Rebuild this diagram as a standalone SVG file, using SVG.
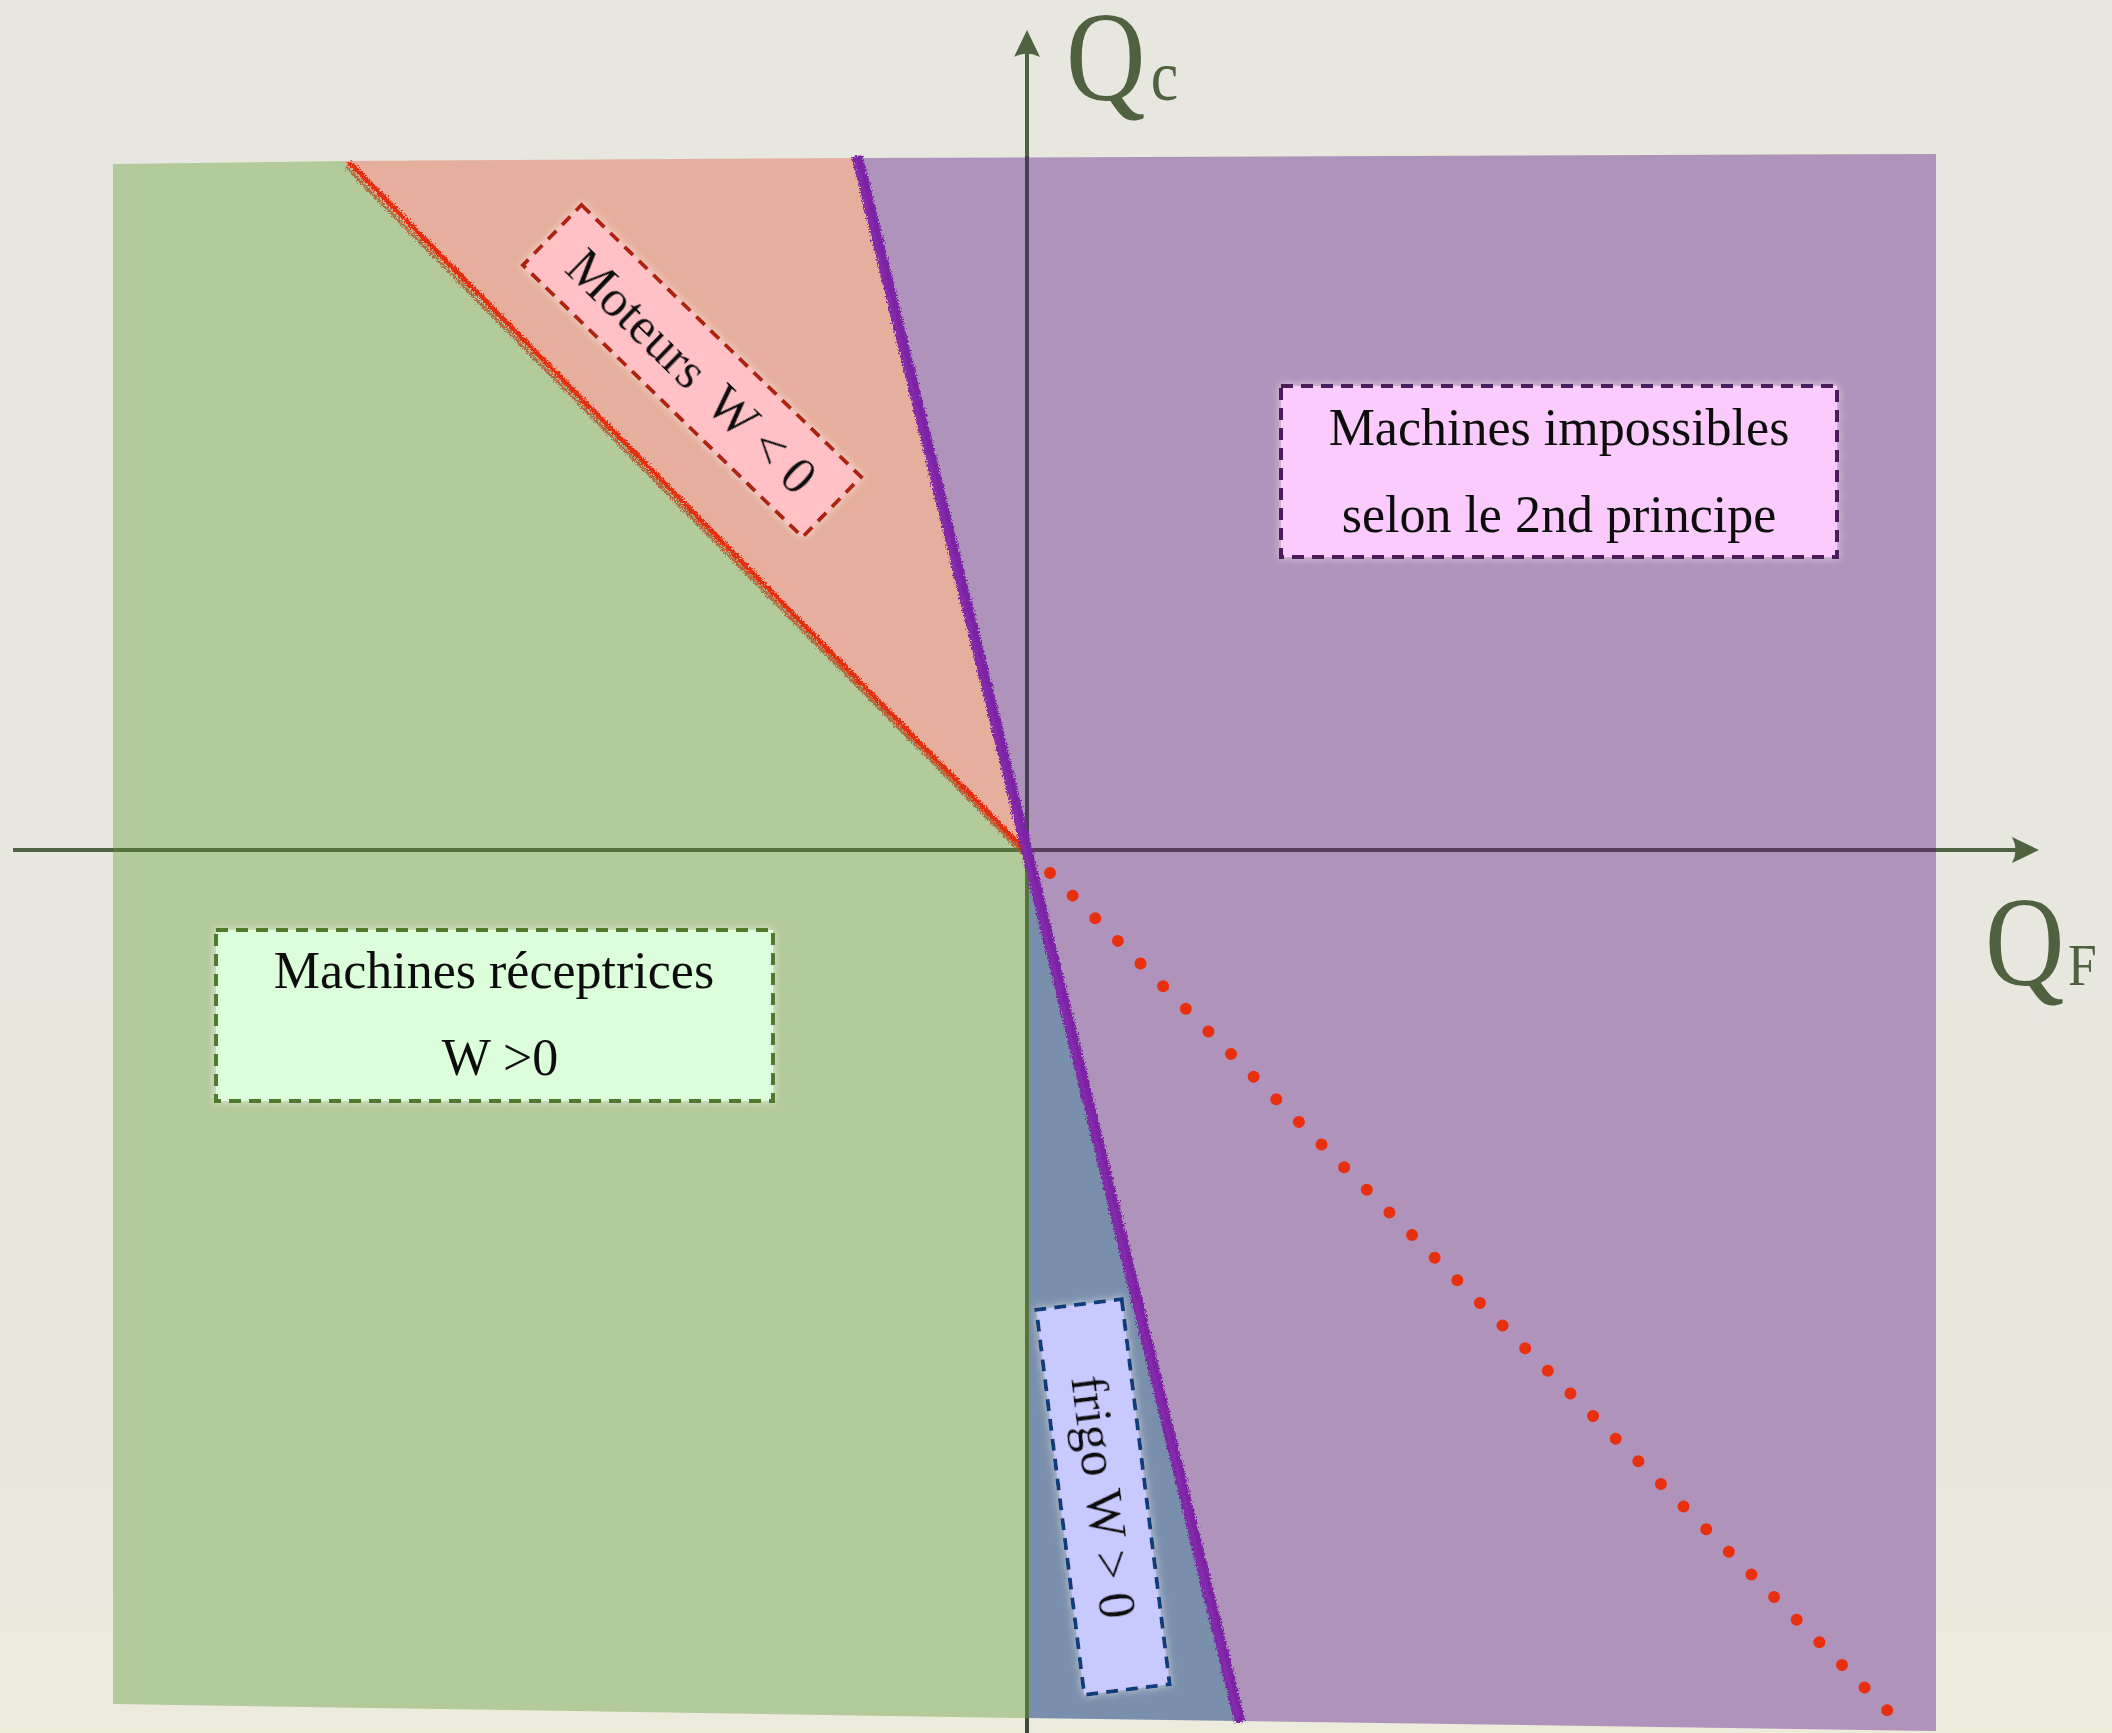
<svg xmlns="http://www.w3.org/2000/svg" width="2112" height="1733" viewBox="0 0 2112 1733">
<defs>
<linearGradient id="bg" x1="0" y1="0" x2="0" y2="1">
<stop offset="0" stop-color="#E7E7E0"/>
<stop offset="0.85" stop-color="#E9E8DF"/>
<stop offset="1" stop-color="#EDEBDC"/>
</linearGradient>
<filter id="rough" x="-10%" y="-5%" width="120%" height="110%">
<feTurbulence type="fractalNoise" baseFrequency="0.6" numOctaves="3" seed="4" result="n"/>
<feDisplacementMap in="SourceGraphic" in2="n" scale="7" xChannelSelector="R" yChannelSelector="G"/>
</filter>
<filter id="glow" x="-10%" y="-40%" width="120%" height="180%">
<feGaussianBlur in="SourceAlpha" stdDeviation="4" result="b"/>
<feFlood flood-color="#ffffff" flood-opacity="0.55"/>
<feComposite in2="b" operator="in" result="g"/>
<feMerge><feMergeNode in="g"/><feMergeNode in="SourceGraphic"/></feMerge>
</filter>
<style>
.lbl{font-family:"Liberation Serif","DejaVu Serif",serif;font-size:52px;fill:#111;text-anchor:middle}
.ax{font-family:"Liberation Serif","DejaVu Serif",serif;fill:#50613F}
.box{stroke-width:4;stroke-dasharray:12 8}
</style>
</defs>
<rect x="0" y="0" width="2112" height="1733" fill="url(#bg)"/>

<g id="regions">
<polygon id="green" points="113,164 345,161 1026,851 1026,1718 113,1704" fill="#B3CA9A"/>
<polygon id="salmon" points="343,161 857,158 1026,851" fill="#E6AE9C"/>
<polygon id="purple" points="855,158 1936,154 1936,1731 1240,1721" fill="#B093BA"/>
<polygon id="frigo-zone" points="1026,851 1240,1721 1026,1718" fill="#7A8FAB"/>
</g>

<g id="connectors">
<line x1="13" y1="850" x2="113" y2="850" stroke="#4F6340" stroke-width="4"/>
<line x1="113" y1="850" x2="1026" y2="850" stroke="#56733F" stroke-width="4"/>
<line x1="1026" y1="850" x2="1936" y2="850" stroke="#563E5C" stroke-width="4"/>
<line x1="1936" y1="850" x2="2020" y2="850" stroke="#4F6340" stroke-width="4"/>
<path d="M2039,850 L2012,837 Q2019,850 2012,863 Z" fill="#4F6340"/>
<line x1="1027" y1="45" x2="1027" y2="156" stroke="#4F6340" stroke-width="4"/>
<line x1="1027" y1="156" x2="1027" y2="850" stroke="#4B3F55" stroke-width="4"/>
<line x1="1027" y1="850" x2="1027" y2="1718" stroke="#55733F" stroke-width="4"/>
<line x1="1027" y1="1718" x2="1027" y2="1733" stroke="#3F4A3A" stroke-width="4"/>
<path d="M1027,30 L1014,57 Q1027,50 1040,57 Z" fill="#4F6340"/>
<g filter="url(#rough)">
<line x1="346" y1="167" x2="1023" y2="854" stroke="#B5502A" stroke-width="3" opacity="0.8"/>
<line x1="349" y1="162" x2="1026" y2="851" stroke="#E42F10" stroke-width="5"/>
</g>
<g filter="url(#rough)">
<line x1="857" y1="156" x2="1240" y2="1722" stroke="#7C22A4" stroke-width="11"/>
<line x1="855" y1="160" x2="1238" y2="1720" stroke="#8A2DB0" stroke-width="4" opacity="0.7"/>
</g>
<line x1="1050" y1="873" x2="1891" y2="1714" stroke="#E8300E" stroke-width="12" stroke-linecap="round" stroke-dasharray="0 32"/>
</g>

<g id="label-Qc">
<text class="ax" transform="translate(1066,100) scale(0.86,1)" font-size="128">Q<tspan dx="6" font-size="72">c</tspan></text>
</g>
<g id="label-QF">
<text class="ax" transform="translate(1985,985) scale(0.86,1)" font-size="128">Q<tspan dx="4" font-size="60">F</tspan></text>
</g>

<g id="node-moteurs" transform="translate(692,371) rotate(44.2)" filter="url(#glow)">
<rect class="box" x="-195" y="-42" width="390" height="84" fill="#FFC1C6" stroke="#B0200F"/>
<text class="lbl" x="0" y="18" font-size="55">Moteurs<tspan dx="22">W &lt; 0</tspan></text>
</g>

<g id="node-impossibles" filter="url(#glow)">
<rect class="box" x="1281" y="386" width="556" height="171" fill="#FACBFC" stroke="#4B1B5A"/>
<text class="lbl" x="1559" y="445">Machines impossibles</text>
<text class="lbl" x="1559" y="532">selon le 2nd principe</text>
</g>

<g id="node-receptrices" filter="url(#glow)">
<rect class="box" x="216" y="930" width="557" height="171" fill="#DCFEDA" stroke="#4F7A2D"/>
<text class="lbl" x="494" y="988">Machines réceptrices</text>
<text class="lbl" x="500" y="1075">W &gt;0</text>
</g>

<g id="node-frigo" transform="translate(1103,1497) rotate(82.9)" filter="url(#glow)">
<rect class="box" x="-194" y="-43" width="388" height="86" fill="#C8C9FE" stroke="#0C3C7C"/>
<text class="lbl" x="0" y="17">frigo<tspan dx="14">W &gt; 0</tspan></text>
</g>
</svg>
